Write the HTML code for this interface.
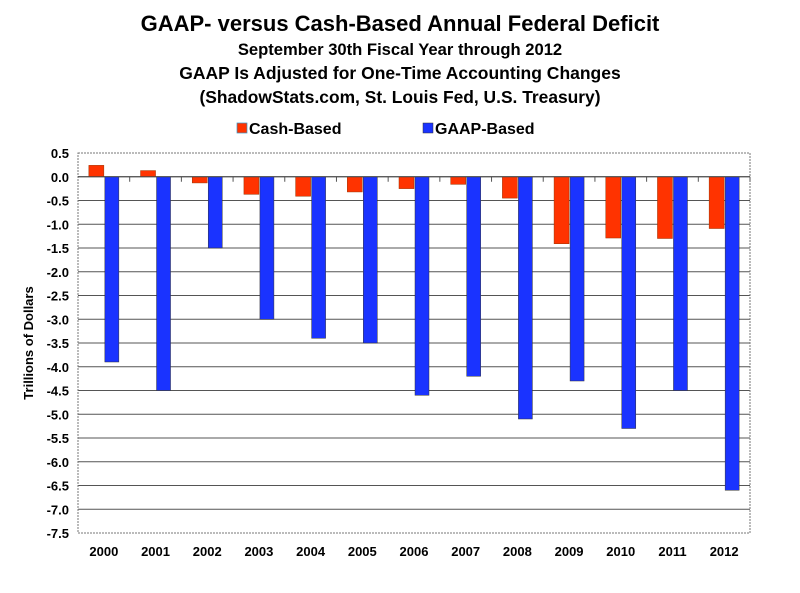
<!DOCTYPE html>
<html><head><meta charset="utf-8"><style>
body{margin:0;background:#fff;font-family:"Liberation Sans",Arial,sans-serif}
svg text{font-family:"Liberation Sans",Arial,sans-serif;font-weight:bold;fill:#000}
</style></head><body>
<svg id="chart" width="800" height="588" viewBox="0 0 800 588">
<text x="400" y="31" font-size="22" text-anchor="middle">GAAP- versus Cash-Based Annual Federal Deficit</text>
<text x="400" y="55" font-size="16.6" text-anchor="middle">September 30th Fiscal Year through 2012</text>
<text x="400" y="79" font-size="17.5" text-anchor="middle">GAAP Is Adjusted for One-Time Accounting Changes</text>
<text x="400" y="103" font-size="17.4" text-anchor="middle">(ShadowStats.com, St. Louis Fed, U.S. Treasury)</text>
<g>
<rect x="237" y="123" width="10" height="10" fill="#ff3300" stroke="#3399cc" stroke-width="0.7"/>
<text x="249" y="134" font-size="16">Cash-Based</text>
<rect x="423" y="123" width="10" height="10" fill="#1a33ff" stroke="#333" stroke-width="0.5"/>
<text x="435" y="134" font-size="16">GAAP-Based</text>
</g>
<g id="grid"></g><g id="bars"></g><g id="axes"></g>
<text font-size="13" text-anchor="middle" transform="translate(33,343) rotate(-90)">Trillions of Dollars</text>
</svg>
<script>
const years=["2000","2001","2002","2003","2004","2005","2006","2007","2008","2009","2010","2011","2012"];
const cashValues=[0.24,0.13,-0.13,-0.37,-0.41,-0.32,-0.25,-0.16,-0.45,-1.41,-1.29,-1.30,-1.09];
const gaapValues=[-3.9,-4.5,-1.5,-3.0,-3.4,-3.5,-4.6,-4.2,-5.1,-4.3,-5.3,-4.5,-6.6];
const yTicks=[0.5,0,-0.5,-1,-1.5,-2,-2.5,-3,-3.5,-4,-4.5,-5,-5.5,-6,-6.5,-7,-7.5];
const NS="http://www.w3.org/2000/svg";
const L=78,R=750,T=153,B=533,yMax=0.5,yMin=-7.5;
function y(v){return T+(yMax-v)/(yMax-yMin)*(B-T);}
const gw=(R-L)/years.length;
function gx(i){return L+i*gw;}
function mk(tag,attrs,parent){const e=document.createElementNS(NS,tag);for(const k in attrs)e.setAttribute(k,attrs[k]);parent.appendChild(e);return e;}
const grid=document.getElementById('grid'),bars=document.getElementById('bars'),axes=document.getElementById('axes');
yTicks.forEach(t=>{
 const ln=mk('line',{x1:L,x2:R,y1:y(t),y2:y(t),stroke:'#555','stroke-width':1,'stroke-dasharray':t===yMax||t===yMin?'2,1':'none'},grid);
 
 
 const tx=mk('text',{x:L-9,y:y(t)+5,'font-size':13,'text-anchor':'end'},axes);
 tx.textContent=t.toFixed(1);
 
 
});
const fr=mk('rect',{x:L,y:T,width:R-L,height:B-T,fill:'none',stroke:'#777','stroke-dasharray':'2,1'},grid);


years.forEach((yr,i)=>{
 const c=gx(i)+gw/2;
 const v1=cashValues[i],v2=gaapValues[i];
 const r1=mk('rect',{x:c-15,y:Math.min(y(0),y(v1)),width:15,height:Math.abs(y(v1)-y(0)),fill:'#ff3300',stroke:'#993300','stroke-width':0.5},bars);
 
 
 const r2=mk('rect',{x:c+1,y:Math.min(y(0),y(v2)),width:14,height:Math.abs(y(v2)-y(0)),fill:'#1a33ff',stroke:'#333','stroke-width':0.5},bars);
 
 
 const tk=mk('line',{x1:gx(i+1),x2:gx(i+1),y1:y(0),y2:y(0)+5,stroke:'#555'},axes);
 
 
 const tx=mk('text',{x:c,y:556,'font-size':13,'text-anchor':'middle'},axes);
 tx.textContent=yr;
 
 
});
const z=mk('line',{x1:L,x2:R,y1:y(0),y2:y(0),stroke:'#444'},axes);


</script>
</body></html>
